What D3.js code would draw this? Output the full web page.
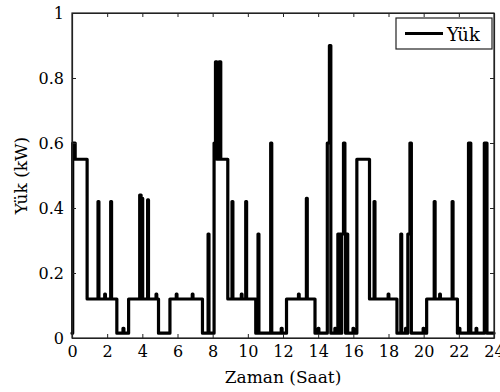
<!DOCTYPE html>
<html>
<head>
<meta charset="utf-8">
<script src="https://cdn.jsdelivr.net/npm/d3@7"></script>
<style>
  html, body { margin: 0; padding: 0; background: #fff; }
  svg { display: block; }
</style>
</head>
<body>
<svg id="chart" width="500" height="392"></svg>
<script>
// ---- data (step change points: value holds from hour until next hour) ----
const hours = [
  0.00, 0.04, 0.18, 0.86, 1.48, 1.53, 1.86, 1.90, 2.20, 2.25,
  2.55, 2.90, 2.95, 3.22, 3.85, 3.93, 3.97, 4.02, 4.30, 4.35,
  4.78, 4.82, 4.92, 5.57, 5.93, 5.97, 6.84, 6.88, 7.42, 7.74,
  7.79, 8.08, 8.16, 8.24, 8.36, 8.46, 8.86, 9.10,
  9.15, 9.63, 9.67, 9.88, 9.93, 10.45, 10.58, 10.63, 11.30, 11.36,
  11.90, 11.95, 12.20, 12.88, 12.92, 13.33, 13.38, 13.82, 14.00, 14.04,
  14.52, 14.64, 14.72, 14.95, 14.99, 15.12, 15.18, 15.22, 15.30, 15.34,
  15.44, 15.52, 15.56, 15.62, 15.68, 15.98, 16.02, 16.20, 16.92, 17.18,
  17.23, 17.98, 18.02, 18.48, 18.70, 18.75, 18.97, 19.01, 19.10, 19.22,
  19.30, 19.97, 20.01, 20.17, 20.60, 20.65, 20.91, 20.95, 21.62, 21.67,
  21.92, 22.02, 22.06, 22.55, 22.68, 22.98, 23.02, 23.45, 23.60, 24.00
];
const load = [
  0.015, 0.60, 0.55, 0.12, 0.42, 0.12, 0.135, 0.12, 0.42, 0.12,
  0.015, 0.03, 0.015, 0.12, 0.44, 0.12, 0.43, 0.12, 0.425, 0.12,
  0.135, 0.12, 0.015, 0.12, 0.135, 0.12, 0.135, 0.12, 0.015, 0.32,
  0.015, 0.60, 0.85, 0.55, 0.85, 0.55, 0.12, 0.42,
  0.12, 0.135, 0.12, 0.42, 0.12, 0.015, 0.32, 0.015, 0.60, 0.015,
  0.03, 0.015, 0.12, 0.135, 0.12, 0.43, 0.12, 0.015, 0.03, 0.015,
  0.60, 0.90, 0.015, 0.03, 0.015, 0.32, 0.015, 0.32, 0.015, 0.32,
  0.60, 0.32, 0.015, 0.32, 0.015, 0.03, 0.015, 0.55, 0.12, 0.42,
  0.12, 0.135, 0.12, 0.015, 0.32, 0.015, 0.03, 0.015, 0.32, 0.60,
  0.015, 0.03, 0.015, 0.12, 0.42, 0.12, 0.135, 0.12, 0.42, 0.12,
  0.015, 0.03, 0.015, 0.60, 0.015, 0.03, 0.015, 0.60, 0.015, 0.015
];
const xTicks = [0, 2, 4, 6, 8, 10, 12, 14, 16, 18, 20, 22, 24];
const yTicks = [0, 0.2, 0.4, 0.6, 0.8, 1];
const yTickLabels = ["0", "0.2", "0.4", "0.6", "0.8", "1"];
const xTitle = "Zaman (Saat)";
const yTitle = "Yük (kW)";
const seriesName = "Yük";

// ---- layout ----
const FONT = "DejaVu Serif";
const L = 72, R = 494, T = 13, B = 338;
const svg = d3.select("#chart");
const x = d3.scaleLinear().domain([0, 24]).range([L, R]);
const y = d3.scaleLinear().domain([0, 1]).range([B, T]);
const pts = hours.map((h, i) => [h, load[i]]);

const line = d3.line().x(d => x(d[0])).y(d => y(d[1])).curve(d3.curveStepAfter);
svg.append("path")
  .datum(pts)
  .attr("d", line)
  .attr("fill", "none")
  .attr("stroke", "#000")
  .attr("stroke-width", 3.2)
  .attr("stroke-linejoin", "round")
  .attr("stroke-linecap", "round");

svg.append("rect")
  .attr("x", L).attr("y", T).attr("width", R - L).attr("height", B - T)
  .attr("fill", "none").attr("stroke", "#222").attr("stroke-width", 1.2);

const fs = 16;
const gb = svg.append("g").attr("transform", `translate(0,${B})`)
  .call(d3.axisBottom(x).tickValues(xTicks).tickSizeInner(-4).tickSizeOuter(0).tickPadding(9).tickFormat(d3.format("d")));
const gt = svg.append("g").attr("transform", `translate(0,${T})`)
  .call(d3.axisTop(x).tickValues(xTicks).tickSizeInner(-4).tickSizeOuter(0).tickFormat(""));
const gl = svg.append("g").attr("transform", `translate(${L},0)`)
  .call(d3.axisLeft(y).tickValues(yTicks).tickSizeInner(-4).tickSizeOuter(0).tickPadding(8)
    .tickFormat((d, i) => yTickLabels[i]));
const gr = svg.append("g").attr("transform", `translate(${R},0)`)
  .call(d3.axisRight(y).tickValues(yTicks).tickSizeInner(-4).tickSizeOuter(0).tickFormat(""));

[gb, gt, gl, gr].forEach(g => {
  g.attr("font-family", FONT).attr("font-size", fs);
  g.select(".domain").attr("stroke", "#222").attr("stroke-width", 1.2);
  g.selectAll(".tick line").attr("stroke", "#222").attr("stroke-width", 1);
  g.selectAll(".tick text").attr("font-family", FONT).attr("font-size", fs).attr("fill", "#000");
});
gb.selectAll(".tick text").attr("dy", "0.71em").attr("y", 8);

svg.append("text")
  .attr("x", (L + R) / 2).attr("y", 383)
  .attr("text-anchor", "middle")
  .attr("font-family", FONT).attr("font-size", 17)
  .text(xTitle);
svg.append("text")
  .attr("transform", `translate(27,${(T + B) / 2}) rotate(-90)`)
  .attr("text-anchor", "middle")
  .attr("font-family", FONT).attr("font-size", 17)
  .text(yTitle);

const lg = svg.append("g");
lg.append("rect")
  .attr("x", 396).attr("y", 18).attr("width", 96).attr("height", 31)
  .attr("fill", "#fff").attr("stroke", "#222").attr("stroke-width", 1.2);
lg.append("line")
  .attr("x1", 405).attr("x2", 443).attr("y1", 33.5).attr("y2", 33.5)
  .attr("stroke", "#000").attr("stroke-width", 3.2);
lg.append("text")
  .attr("x", 447).attr("y", 41)
  .attr("font-family", FONT).attr("font-size", 18)
  .text(seriesName);
</script>
</body>
</html>
